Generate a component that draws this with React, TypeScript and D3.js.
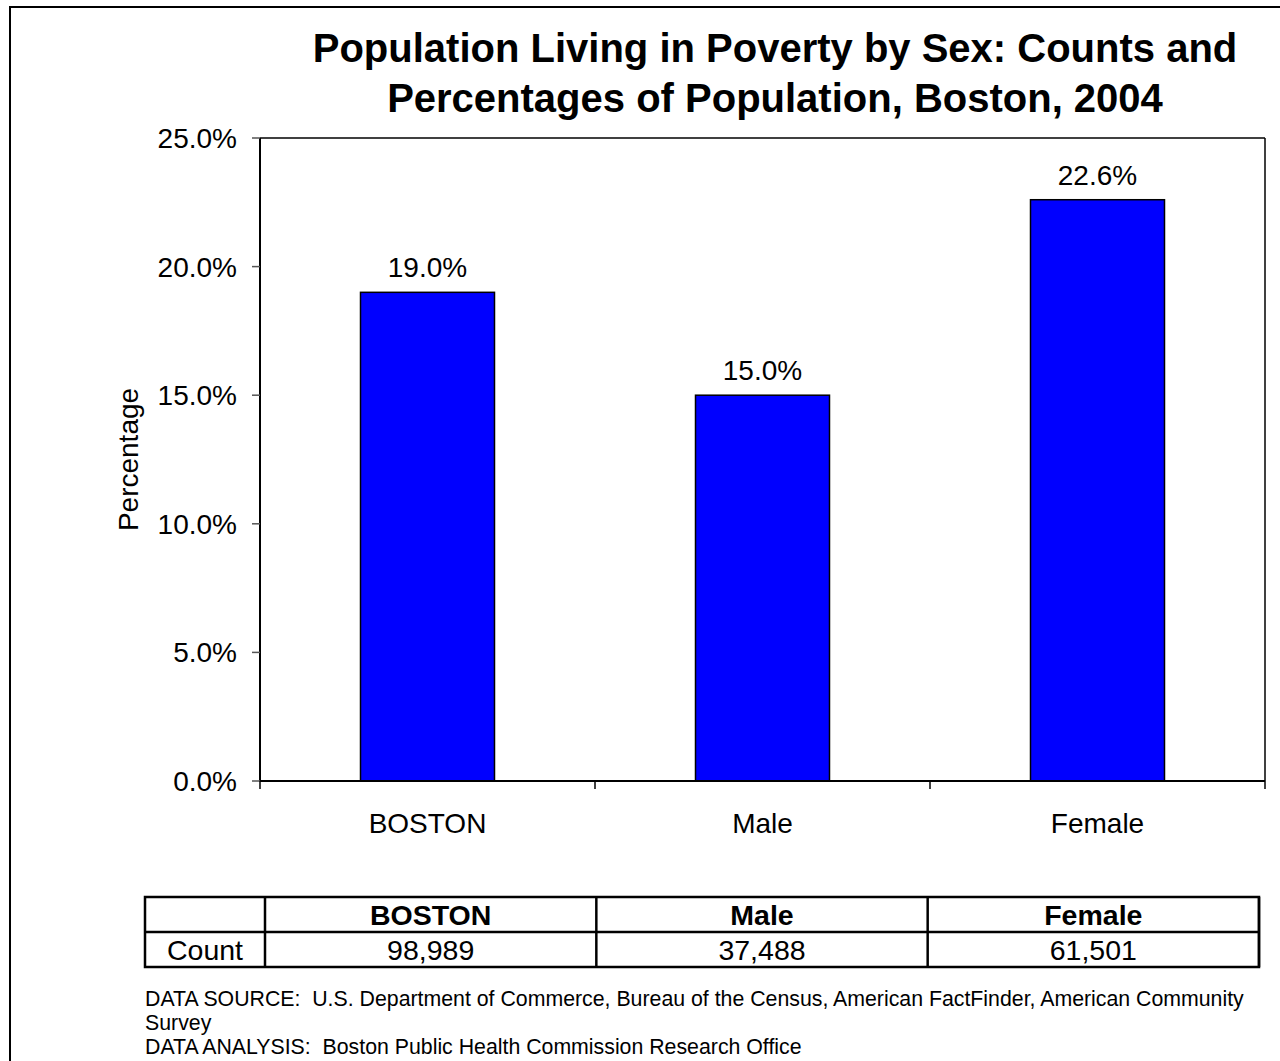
import * as d3 from 'd3';

const categories = ['BOSTON', 'Male', 'Female'];
const percentages = [19.0, 15.0, 22.6];
const counts = [98989, 37488, 61501];
const yTicks = [0, 5, 10, 15, 20, 25];
const titleLines = [
  'Population Living in Poverty by Sex: Counts and',
  'Percentages of Population, Boston, 2004',
];
const footerLines = [
  'DATA SOURCE:  U.S. Department of Commerce, Bureau of the Census, American FactFinder, American Community',
  'Survey',
  'DATA ANALYSIS:  Boston Public Health Commission Research Office',
];

const W = 1280;
const H = 1061;
const FONT = 'Arial, "Liberation Sans", sans-serif';

const plot = { left: 260, right: 1265, top: 138, bottom: 781 };
const table = { left: 145, labelRight: 265, right: 1259, top: 897, mid: 932, bottom: 967 };

const App = () => {
  const x = d3
    .scaleBand()
    .domain(categories)
    .range([plot.left, plot.right])
    .paddingInner(0.6)
    .paddingOuter(0.3);

  const xBand = d3.scaleBand().domain(categories).range([plot.left, plot.right]);

  const y = d3.scaleLinear().domain([0, 25]).range([plot.bottom, plot.top]);

  const tableX = d3.scaleBand().domain(categories).range([table.labelRight, table.right]);

  const fmtPct = d3.format('.1f');
  const fmtCount = d3.format(',');

  const boundaries = [...categories.map(c => xBand(c)), plot.right];

  return (
    <svg
      width={W}
      height={H}
      style={{ position: 'absolute', left: 0, top: 0, background: '#fff' }}
      fontFamily={FONT}
    >
      {/* outer frame */}
      <rect x={10} y={7} width={1400} height={1200} fill="none" stroke="#000" strokeWidth={2} />

      {/* title */}
      {titleLines.map((t, i) => (
        <text
          key={t}
          x={775}
          y={62 + i * 50}
          textAnchor="middle"
          fontSize={40}
          fontWeight="bold"
        >
          {t}
        </text>
      ))}

      {/* plot area box */}
      <line x1={plot.left} x2={plot.right} y1={plot.top} y2={plot.top} stroke="#000" strokeWidth={1.5} />
      <line x1={plot.right} x2={plot.right} y1={plot.top} y2={plot.bottom} stroke="#000" strokeWidth={1.5} />

      {/* bars */}
      {categories.map((c, i) => (
        <rect
          key={c}
          x={x(c)}
          y={y(percentages[i])}
          width={x.bandwidth()}
          height={plot.bottom - y(percentages[i])}
          fill="#0000FF"
          stroke="#000"
          strokeWidth={1.5}
        />
      ))}

      {/* value labels */}
      {categories.map((c, i) => (
        <text
          key={c}
          x={x(c) + x.bandwidth() / 2}
          y={y(percentages[i]) - 15}
          textAnchor="middle"
          fontSize={28}
        >
          {fmtPct(percentages[i])}%
        </text>
      ))}

      {/* y axis */}
      <line x1={plot.left} x2={plot.left} y1={plot.top} y2={plot.bottom} stroke="#000" strokeWidth={2} />
      {yTicks.map(t => (
        <g key={t}>
          <line x1={plot.left - 8} x2={plot.left} y1={y(t)} y2={y(t)} stroke="#555" strokeWidth={1.5} />
          <text x={237} y={y(t)} dy="0.36em" textAnchor="end" fontSize={28}>
            {fmtPct(t)}%
          </text>
        </g>
      ))}
      <text
        transform={`translate(138,${(plot.top + plot.bottom) / 2}) rotate(-90)`}
        textAnchor="middle"
        fontSize={28}
      >
        Percentage
      </text>

      {/* x axis */}
      <line x1={plot.left} x2={plot.right} y1={plot.bottom} y2={plot.bottom} stroke="#000" strokeWidth={2} />
      {boundaries.map(b => (
        <line key={b} x1={b} x2={b} y1={plot.bottom} y2={plot.bottom + 8} stroke="#000" strokeWidth={1.5} />
      ))}
      {categories.map(c => (
        <text
          key={c}
          x={xBand(c) + xBand.bandwidth() / 2}
          y={833}
          textAnchor="middle"
          fontSize={28}
        >
          {c}
        </text>
      ))}

      {/* data table */}
      <g stroke="#000" strokeWidth={2.5} fill="none">
        <rect x={table.left} y={table.top} width={table.right - table.left} height={table.bottom - table.top} />
        <line x1={table.left} x2={table.right} y1={table.mid} y2={table.mid} />
        <line x1={table.labelRight} x2={table.labelRight} y1={table.top} y2={table.bottom} />
        {categories.map(c => (
          <line key={c} x1={tableX(c) + tableX.bandwidth()} x2={tableX(c) + tableX.bandwidth()} y1={table.top} y2={table.bottom} />
        ))}
      </g>
      {categories.map((c, i) => (
        <g key={c}>
          <text x={tableX(c) + tableX.bandwidth() / 2} y={925} textAnchor="middle" fontSize={28.5} fontWeight="bold">
            {c}
          </text>
          <text x={tableX(c) + tableX.bandwidth() / 2} y={960} textAnchor="middle" fontSize={28.5}>
            {fmtCount(counts[i])}
          </text>
        </g>
      ))}
      <text x={(table.left + table.labelRight) / 2} y={960} textAnchor="middle" fontSize={28.5}>
        Count
      </text>

      {/* footer */}
      {footerLines.map((t, i) => (
        <text key={i} x={145} y={1006 + i * 24} fontSize={21.3} style={{ whiteSpace: 'pre' }}>
          {t}
        </text>
      ))}
    </svg>
  );
};

export default App;
